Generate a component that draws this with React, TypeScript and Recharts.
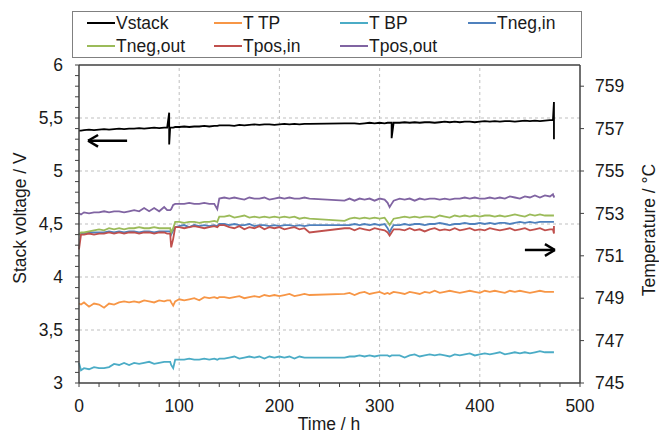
import React from 'react';
import { LineChart, Line, XAxis, YAxis, ReferenceLine } from 'recharts';

const FONT = '"Liberation Sans", Arial, sans-serif';

// Time axis (h)
const hours = [
  0, 2, 5, 10, 15, 20, 25, 30, 35, 40, 45, 50, 55, 60, 65, 70, 75, 80, 85, 88,
  90, 90, 91,
  92, 94, 96,
  100, 105, 110, 115, 120, 125, 130, 135, 138,
  140,
  145, 150, 155, 160, 165, 170, 175, 180, 185, 190, 195, 200, 205, 210, 215, 220, 225, 230,
  265,
  270, 275, 280, 285, 290, 295, 300, 305,
  308, 310, 312, 312, 314,
  320, 325, 330, 335, 340, 345, 350, 355, 360, 365, 370, 375, 380, 385, 390, 395, 400, 405, 410, 415, 420, 425, 430, 435, 440, 445, 450, 455, 460, 465, 470,
  473, 474, 474,
];

// Stack voltage (V)
const vstack = [
  5.38, 5.38, 5.385, 5.39, 5.385, 5.39, 5.395, 5.39, 5.395, 5.4, 5.395, 5.4, 5.4, 5.405, 5.4, 5.405, 5.41, 5.405, 5.41, 5.41,
  5.55, 5.25, 5.41,
  5.41, 5.41, 5.415,
  5.415, 5.42, 5.415, 5.42, 5.42, 5.425, 5.42, 5.425, 5.425,
  5.43,
  5.43, 5.43, 5.425, 5.435, 5.43, 5.435, 5.44, 5.435, 5.44, 5.44, 5.435, 5.44, 5.445, 5.44, 5.445, 5.44, 5.445, 5.445,
  5.45,
  5.45, 5.45, 5.445, 5.45, 5.455, 5.45, 5.455, 5.45,
  5.455, 5.455, 5.455, 5.31, 5.455,
  5.455, 5.46, 5.455, 5.46, 5.455, 5.46, 5.46, 5.455, 5.46, 5.465, 5.46, 5.465, 5.46, 5.465, 5.465, 5.46, 5.465, 5.47, 5.465, 5.47, 5.465, 5.47, 5.47, 5.465, 5.47, 5.475, 5.47, 5.475, 5.47, 5.475, 5.48,
  5.48, 5.65, 5.3,
];

// Temperatures (°C)
const tTP = [
  748.75, 748.7, 748.8, 748.6, 748.75, 748.7, 748.55, 748.75, 748.7, 748.8, 748.85, 748.8, 748.85, 748.8, 748.9, 748.85, 748.8, 748.9, 748.85, 748.9,
  748.9, 748.9, 748.9,
  748.8, 748.65, 748.85,
  748.95, 748.9, 748.95, 749.0, 748.9, 749.05, 749.0, 749.05, 749.0,
  749.05,
  749.05, 749.0, 749.05, 749.1, 749.0, 749.05, 749.1, 749.05, 749.15, 749.1, 749.15, 749.1, 749.15, 749.2, 749.1, 749.15, 749.2, 749.15,
  749.2,
  749.25, 749.15, 749.25, 749.3, 749.2, 749.25, 749.3, 749.2,
  749.25, 749.2, 749.25, 749.25, 749.3,
  749.25, 749.2, 749.3, 749.25, 749.2, 749.3, 749.25, 749.35, 749.25, 749.3, 749.35, 749.3, 749.25, 749.3, 749.35, 749.3, 749.25, 749.35, 749.3, 749.35, 749.3, 749.25, 749.35, 749.3, 749.35, 749.3, 749.25, 749.3, 749.35, 749.3, 749.3,
  749.3, 749.3, 749.3,
];

const tBP = [
  745.95, 745.6, 745.7, 745.65, 745.75, 745.7, 745.7, 745.75, 745.9, 745.85, 745.95, 745.85, 745.95, 745.9, 745.95, 746.0, 745.9, 745.95, 746.0, 746.0,
  746.0, 746.0, 746.0,
  745.85, 745.7, 746.1,
  746.1, 746.1, 746.15, 746.1, 746.1, 746.15, 746.1, 746.15, 746.1,
  746.15,
  746.15, 746.2, 746.25, 746.15, 746.2, 746.25, 746.2, 746.25, 746.15, 746.25, 746.2, 746.25, 746.2, 746.25, 746.15, 746.25, 746.2, 746.2,
  746.2,
  746.25, 746.25, 746.3, 746.25, 746.3, 746.25, 746.3, 746.3,
  746.3, 746.25, 746.3, 746.3, 746.3,
  746.3, 746.2, 746.3, 746.35, 746.25, 746.3, 746.35, 746.3, 746.35, 746.3, 746.25, 746.35, 746.3, 746.35, 746.4, 746.3, 746.35, 746.4, 746.35, 746.4, 746.45, 746.35, 746.4, 746.45, 746.4, 746.45, 746.4, 746.45, 746.5, 746.45, 746.45,
  746.45, 746.45, 746.45,
];

const tNegIn = [
  752.0, 752.05, 752.05, 752.1, 752.1, 752.1, 752.1, 752.15, 752.1, 752.15, 752.1, 752.15, 752.15, 752.1, 752.15, 752.15, 752.1, 752.15, 752.15, 752.15,
  752.15, 752.15, 752.15,
  752.0, 752.2, 752.35,
  752.4, 752.45, 752.35, 752.45, 752.4, 752.45, 752.4, 752.45, 752.4,
  752.5,
  752.5, 752.45, 752.5, 752.45, 752.45, 752.5, 752.4, 752.45, 752.45, 752.4, 752.45, 752.4, 752.45, 752.45, 752.4, 752.45, 752.4, 752.45,
  752.45,
  752.45, 752.5, 752.45, 752.5, 752.45, 752.5, 752.45, 752.5,
  752.3, 752.1, 752.3, 752.3, 752.45,
  752.45, 752.5, 752.45, 752.5, 752.5, 752.45, 752.5, 752.5, 752.55, 752.5, 752.45, 752.5, 752.5, 752.55, 752.5, 752.5, 752.55, 752.5, 752.55, 752.5, 752.55, 752.55, 752.5, 752.55, 752.6, 752.55, 752.6, 752.55, 752.6, 752.6, 752.6,
  752.6, 752.6, 752.6,
];

const tNegOut = [
  752.0, 752.1, 752.1, 752.15, 752.2, 752.25, 752.2, 752.3, 752.25, 752.3, 752.25, 752.3, 752.3, 752.35, 752.3, 752.3, 752.35, 752.3, 752.3, 752.3,
  752.3, 752.3, 752.3,
  752.1, 752.3, 752.6,
  752.6, 752.55, 752.6, 752.6, 752.55, 752.6, 752.6, 752.65, 752.6,
  752.85,
  752.85, 752.9, 752.8, 752.85, 752.9, 752.8, 752.85, 752.8, 752.85, 752.8, 752.85, 752.8, 752.85, 752.8, 752.85, 752.75, 752.8, 752.75,
  752.65,
  752.75, 752.8, 752.75, 752.8, 752.75, 752.8, 752.75, 752.8,
  752.6, 752.45, 752.6, 752.6, 752.75,
  752.8, 752.85, 752.8, 752.85, 752.8, 752.85, 752.85, 752.8, 752.9, 752.85, 752.8, 752.9, 752.85, 752.9, 752.85, 752.9, 752.85, 752.9, 752.9, 752.85, 752.9, 752.85, 752.9, 752.95, 752.9, 752.85, 752.95, 752.9, 752.95, 752.9, 752.9,
  752.9, 752.9, 752.9,
];

const tPosIn = [
  751.3, 752.0, 752.0, 752.05, 752.0, 752.05, 752.05, 752.1, 752.05, 752.1, 752.05, 752.1, 752.1, 752.05, 752.1, 752.1, 752.05, 752.1, 752.1, 752.05,
  752.05, 752.05, 752.05,
  751.4, 751.8, 752.35,
  752.35, 752.3, 752.35, 752.4, 752.35, 752.3, 752.35, 752.4, 752.35,
  752.45,
  752.45, 752.35, 752.3, 752.4, 752.25, 752.35, 752.3, 752.4, 752.25, 752.35, 752.3, 752.35, 752.25, 752.3, 752.35, 752.25, 752.3, 752.1,
  752.3,
  752.3, 752.2, 752.3, 752.25, 752.2, 752.3, 752.25, 752.2,
  752.1, 751.95, 752.1, 752.1, 752.25,
  752.25, 752.2, 752.3, 752.2, 752.25, 752.15, 752.25, 752.3, 752.2, 752.25, 752.2, 752.3, 752.2, 752.25, 752.3, 752.2, 752.25, 752.2, 752.3, 752.25, 752.2, 752.25, 752.3, 752.2, 752.25, 752.3, 752.2, 752.25, 752.3, 752.2, 752.25,
  752.25, 752.05, 752.4,
];

const tPosOut = [
  753.0, 752.95, 753.05, 753.0, 753.05, 753.05, 753.1, 753.05, 753.1, 753.1, 753.05, 753.1, 753.15, 753.1, 753.25, 753.1, 753.25, 753.1, 753.3, 753.15,
  753.15, 753.15, 753.15,
  753.2, 753.4, 753.45,
  753.45, 753.45, 753.5, 753.45, 753.45, 753.5, 753.45, 753.45, 753.2,
  753.7,
  753.75, 753.7, 753.75, 753.7, 753.65, 753.75, 753.7, 753.7, 753.75, 753.65, 753.7, 753.75, 753.7, 753.75, 753.7, 753.7, 753.75, 753.7,
  753.6,
  753.7, 753.6, 753.7, 753.65, 753.7, 753.6, 753.7, 753.65,
  753.5, 753.3, 753.45, 753.45, 753.6,
  753.7, 753.65, 753.7, 753.6, 753.7, 753.65, 753.7, 753.7, 753.65, 753.7, 753.65, 753.7, 753.7, 753.75, 753.7, 753.75, 753.7, 753.7, 753.75, 753.7, 753.75, 753.7, 753.8, 753.75, 753.7, 753.8, 753.75, 753.85, 753.75, 753.85, 753.8,
  753.9, 753.75, 753.85,
];

// Axis ticks
const xTicks = [0, 20, 40, 60, 80, 100, 120, 140, 160, 180, 200, 220, 240, 260, 280, 300, 320, 340, 360, 380, 400, 420, 440, 460, 480, 500];
const xLabelTicks = [0, 100, 200, 300, 400, 500];
const vTicks = [3, 3.1, 3.2, 3.3, 3.4, 3.5, 3.6, 3.7, 3.8, 3.9, 4, 4.1, 4.2, 4.3, 4.4, 4.5, 4.6, 4.7, 4.8, 4.9, 5, 5.1, 5.2, 5.3, 5.4, 5.5, 5.6, 5.7, 5.8, 5.9, 6];
const vLabelTicks = [3, 3.5, 4, 4.5, 5, 5.5, 6];
const tTicks = [745, 747, 749, 751, 753, 755, 757, 759];
const vGrid = [3.5, 4, 4.5, 5, 5.5];
const xGrid = [100, 200, 300, 400];

const series = [
  { key: 'vstack', name: 'Vstack', color: '#000000', axis: 'left', values: vstack },
  { key: 'tTP', name: 'T TP', color: '#F79646', axis: 'right', values: tTP },
  { key: 'tBP', name: 'T BP', color: '#4BACC6', axis: 'right', values: tBP },
  { key: 'tNegIn', name: 'Tneg,in', color: '#4F81BD', axis: 'right', values: tNegIn },
  { key: 'tNegOut', name: 'Tneg,out', color: '#9BBB59', axis: 'right', values: tNegOut },
  { key: 'tPosIn', name: 'Tpos,in', color: '#C0504D', axis: 'right', values: tPosIn },
  { key: 'tPosOut', name: 'Tpos,out', color: '#8064A2', axis: 'right', values: tPosOut },
];

const data = hours.map((h, i) => {
  const row: Record<string, number> = { h };
  series.forEach((s) => {
    row[s.key] = s.values[i];
  });
  return row;
});

const AXIS = '#404040';
const TEXT = '#1a1a1a';
const tickStyle = { fontSize: 17.5, fill: TEXT, fontFamily: FONT };

const fmtV = (v: number) =>
  vLabelTicks.some((t) => Math.abs(t - v) < 1e-6) ? String(v).replace('.', ',') : '';
const fmtX = (v: number) => (xLabelTicks.includes(v) ? String(v) : '');

export default function App() {
  return (
    <div style={{ position: 'absolute', left: 0, top: 0, width: 659, height: 434, background: '#fff', fontFamily: FONT }}>
      <LineChart width={659} height={434} data={data} margin={{ top: 65, right: 29, bottom: 21, left: 39 }}>
        <XAxis
          dataKey="h"
          type="number"
          domain={[0, 500]}
          ticks={xTicks}
          interval={0}
          tickFormatter={fmtX}
          height={30}
          axisLine={{ stroke: AXIS, strokeWidth: 1.5 }}
          tickLine={{ stroke: AXIS }}
          tickSize={4}
          tickMargin={13}
          tick={tickStyle}
        />
        <YAxis
          yAxisId="left"
          domain={[3, 6]}
          ticks={vTicks}
          interval={0}
          tickFormatter={fmtV}
          width={40}
          axisLine={{ stroke: AXIS, strokeWidth: 1.5 }}
          tickLine={{ stroke: AXIS }}
          tickSize={4}
          tickMargin={12}
          tick={tickStyle}
        />
        <YAxis
          yAxisId="right"
          orientation="right"
          domain={[745, 760]}
          ticks={tTicks}
          interval={0}
          width={50}
          axisLine={{ stroke: AXIS, strokeWidth: 1.5 }}
          tickLine={{ stroke: AXIS }}
          tickSize={4}
          tickMargin={11}
          tick={tickStyle}
        />
        {vGrid.map((v) => (
          <ReferenceLine key={'gy' + v} yAxisId="left" y={v} stroke="#bfbfbf" strokeDasharray="3 3" />
        ))}
        {xGrid.map((v) => (
          <ReferenceLine key={'gx' + v} yAxisId="left" x={v} stroke="#bfbfbf" strokeDasharray="3 3" />
        ))}
        <ReferenceLine yAxisId="left" y={6} stroke={AXIS} strokeWidth={1.5} />
        {series.map((s) => (
          <Line
            key={s.key}
            yAxisId={s.axis}
            dataKey={s.key}
            name={s.name}
            stroke={s.color}
            strokeWidth={1.8}
            dot={false}
            type="linear"
            isAnimationActive={false}
          />
        ))}
        {/* left arrow (Vstack -> left axis) */}
        <ReferenceLine yAxisId="left" segment={[{ x: 9, y: 5.285 }, { x: 48, y: 5.285 }]} stroke="#000" strokeWidth={2.5} />
        <ReferenceLine yAxisId="left" segment={[{ x: 9, y: 5.285 }, { x: 19, y: 5.34 }]} stroke="#000" strokeWidth={2.5} />
        <ReferenceLine yAxisId="left" segment={[{ x: 9, y: 5.285 }, { x: 19, y: 5.23 }]} stroke="#000" strokeWidth={2.5} />
        {/* right arrow (temperatures -> right axis) */}
        <ReferenceLine yAxisId="left" segment={[{ x: 445, y: 4.255 }, { x: 475, y: 4.255 }]} stroke="#000" strokeWidth={2.5} />
        <ReferenceLine yAxisId="left" segment={[{ x: 475, y: 4.255 }, { x: 465, y: 4.31 }]} stroke="#000" strokeWidth={2.5} />
        <ReferenceLine yAxisId="left" segment={[{ x: 475, y: 4.255 }, { x: 465, y: 4.2 }]} stroke="#000" strokeWidth={2.5} />
      </LineChart>

      {/* Legend */}
      <div
        style={{
          position: 'absolute',
          left: 72,
          top: 11,
          width: 510,
          height: 47,
          boxSizing: 'border-box',
          border: '1.5px solid #808080',
          background: '#fff',
        }}
      />
      {series.map((s, i) => {
        const col = i % 4;
        const row = Math.floor(i / 4);
        const left = [87, 214, 340, 468][col];
        const cy = row === 0 ? 23 : 46;
        return (
          <div key={s.key} style={{ position: 'absolute', left, top: cy - 11, height: 22, display: 'flex', alignItems: 'center', whiteSpace: 'nowrap' }}>
            <div style={{ width: 28, height: 2, background: s.color }} />
            <span style={{ marginLeft: 1, fontSize: 17.5, color: TEXT, fontFamily: FONT }}>{s.name}</span>
          </div>
        );
      })}

      {/* Axis titles */}
      <div style={{ position: 'absolute', left: 20, top: 218, transform: 'translate(-50%, -50%) rotate(-90deg)', whiteSpace: 'nowrap', fontSize: 17.5, color: TEXT }}>
        Stack voltage / V
      </div>
      <div style={{ position: 'absolute', left: 649, top: 230, transform: 'translate(-50%, -50%) rotate(-90deg)', whiteSpace: 'nowrap', fontSize: 17.5, color: TEXT }}>
        Temperature / °C
      </div>
      <div style={{ position: 'absolute', left: 329, top: 424, transform: 'translate(-50%, -50%)', whiteSpace: 'nowrap', fontSize: 17.5, color: TEXT }}>
        Time / h
      </div>
    </div>
  );
}
